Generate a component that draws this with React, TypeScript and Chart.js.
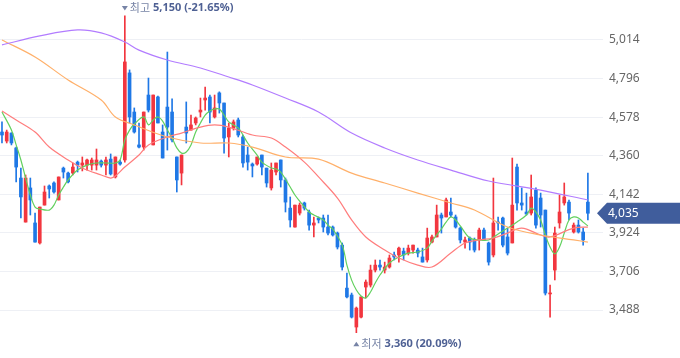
import React, { useEffect, useRef } from 'react';
import { Chart, registerables } from 'chart.js';

Chart.register(...registerables);

// Daily candles (oldest -> newest)
const opens = [
  4494, 4443, 4488, 4404, 4234, 3985, 4178, 3980, 3867, 4081,
  4189, 4206, 4110, 4290, 4262, 4262, 4324, 4307, 4307, 4307,
  4307, 4330, 4307, 4341, 4240, 4324, 4336, 4828, 4607, 4421,
  4409, 4703, 4421, 4692, 4494, 4635, 4607, 4353, 4262, 4522,
  4505, 4545, 4607, 4675, 4692, 4579, 4715, 4658, 4466, 4517,
  4562, 4466, 4364, 4313, 4313, 4364, 4290, 4178, 4268, 4336,
  4223, 4064, 3957, 4036, 4093, 4042, 3968, 4008, 4008, 3957,
  3957, 3923, 3855, 3612, 3573, 3392, 3448, 3618, 3629, 3714,
  3742, 3714, 3731, 3799, 3799, 3821, 3810, 3827, 3827, 3788,
  3771, 3872, 3901, 4025, 4014, 4042, 4014, 3951, 3872, 3895,
  3884, 3884, 3940, 3867, 3799, 3985, 4008, 3901, 3867, 4296,
  4093, 4042, 4036, 4166, 4121, 4053, 3579, 3714, 3980, 4093,
  4098, 3929, 3968, 3929, 4098,
];
const highs = [
  4551, 4505, 4490, 4409, 4290, 4251, 4234, 4036, 4070, 4189,
  4195, 4212, 4240, 4296, 4268, 4319, 4330, 4353, 4341, 4347,
  4398, 4336, 4353, 4370, 4353, 4336, 5150, 4845, 4630, 4545,
  4607, 4799, 4703, 4697, 4534, 4946, 4681, 4353, 4364, 4664,
  4590, 4579, 4686, 4748, 4703, 4703, 4721, 4658, 4545, 4562,
  4573, 4477, 4409, 4319, 4353, 4364, 4290, 4319, 4319, 4336,
  4234, 4127, 4081, 4093, 4098, 4053, 4014, 4014, 4025, 4025,
  3963, 3929, 3867, 3697, 3584, 3505, 3562, 3658, 3742, 3771,
  3771, 3759, 3799, 3816, 3844, 3838, 3855, 3855, 3838, 3838,
  3951, 3912, 4081, 4036, 4121, 4121, 4025, 3957, 3901, 3901,
  3895, 3951, 3951, 3872, 4234, 4014, 4014, 3951, 4347, 4313,
  4178, 4149, 4251, 4178, 4149, 4053, 3629, 3957, 4138, 4206,
  4110, 3980, 3997, 3951, 4262,
];
const lows = [
  4432, 4432, 4421, 4212, 4008, 3985, 4025, 3872, 3861, 4081,
  4121, 4149, 4110, 4234, 4206, 4251, 4268, 4274, 4279, 4279,
  4279, 4296, 4251, 4251, 4234, 4307, 4324, 4545, 4488, 4404,
  4392, 4607, 4421, 4545, 4347, 4392, 4438, 4155, 4195, 4432,
  4505, 4534, 4579, 4618, 4545, 4573, 4601, 4375, 4353, 4505,
  4466, 4296, 4279, 4240, 4307, 4251, 4183, 4166, 4251, 4183,
  4042, 3957, 3957, 4025, 4053, 3940, 3901, 3980, 3929, 3912,
  3906, 3833, 3714, 3556, 3443, 3360, 3443, 3556, 3618, 3703,
  3714, 3697, 3725, 3771, 3759, 3771, 3799, 3810, 3788, 3759,
  3759, 3867, 3901, 3923, 4014, 4014, 3951, 3867, 3838, 3827,
  3816, 3827, 3884, 3742, 3788, 3940, 3844, 3799, 3867, 4053,
  4053, 4025, 4025, 3951, 3957, 3573, 3448, 3658, 3951, 4081,
  3997, 3923, 3923, 3855, 3997,
];
const closes = [
  4477, 4494, 4432, 4296, 4127, 4234, 4110, 3872, 4070, 4155,
  4172, 4155, 4240, 4268, 4212, 4296, 4307, 4319, 4336, 4336,
  4336, 4307, 4336, 4257, 4353, 4313, 4890, 4579, 4494, 4409,
  4607, 4618, 4703, 4545, 4347, 4522, 4449, 4223, 4364, 4488,
  4534, 4573, 4618, 4686, 4607, 4630, 4658, 4460, 4517, 4551,
  4477, 4319, 4324, 4302, 4353, 4296, 4206, 4279, 4319, 4223,
  4098, 3997, 4081, 4081, 4064, 3968, 3980, 3997, 3957, 3923,
  3912, 3844, 3731, 3562, 3448, 3499, 3562, 3646, 3714, 3742,
  3731, 3731, 3782, 3788, 3838, 3799, 3838, 3855, 3810, 3759,
  3895, 3901, 4025, 4008, 4110, 4025, 3957, 3884, 3884, 3872,
  3827, 3940, 3884, 3759, 3980, 3980, 3855, 3810, 4081, 4093,
  4081, 4031, 4127, 3968, 4025, 3584, 3584, 3923, 4042, 4127,
  4036, 3968, 3929, 3884, 4035,
];

// Moving-average lines (candle index -> value)
const ma5Idx = [0, 2, 3, 4, 5, 6, 7, 8, 10, 11, 12, 13, 14, 16, 18, 20, 22, 24, 25, 26, 27, 28, 30, 31, 32, 33, 34, 35, 36, 37, 38, 39, 40, 41, 42, 43, 44, 45, 46, 47, 48, 50, 51, 52, 54, 55, 57, 58, 59, 61, 62, 63, 65, 66, 68, 69, 70, 72, 73, 74, 75, 76, 77, 78, 79, 80, 82, 84, 86, 88, 90, 91, 92, 93, 94, 95, 96, 97, 99, 101, 103, 105, 107, 109, 111, 112, 113, 114, 115, 116, 117, 118, 119, 120, 121, 122, 123, 124];
const ma5Val = [4607, 4505, 4421, 4336, 4234, 4138, 4070, 4059, 4053, 4081, 4138, 4183, 4223, 4279, 4307, 4319, 4319, 4319, 4336, 4449, 4505, 4539, 4579, 4534, 4562, 4579, 4556, 4505, 4460, 4404, 4375, 4381, 4421, 4494, 4545, 4590, 4613, 4624, 4624, 4590, 4551, 4517, 4477, 4432, 4364, 4324, 4291, 4285, 4268, 4183, 4138, 4104, 4042, 4025, 3997, 3968, 3946, 3855, 3742, 3657, 3601, 3567, 3556, 3590, 3641, 3686, 3754, 3788, 3810, 3816, 3838, 3878, 3912, 3946, 3985, 4014, 3997, 3963, 3895, 3884, 3884, 3918, 3951, 3985, 4025, 4064, 4042, 3997, 3912, 3844, 3805, 3844, 3923, 3997, 4014, 4008, 3985, 3963];

const ma20Idx = [0, 3, 7, 10, 14, 17, 21, 23, 24, 26, 29, 31, 35, 38, 42, 45, 48, 53, 57, 60, 64, 67, 71, 74, 77, 81, 84, 88, 91, 95, 98, 101, 104, 107, 110, 114, 116, 121, 124];
const ma20Val = [4613, 4562, 4494, 4409, 4336, 4291, 4251, 4234, 4245, 4296, 4364, 4421, 4466, 4488, 4522, 4534, 4522, 4477, 4460, 4409, 4324, 4240, 4121, 3997, 3901, 3827, 3782, 3742, 3731, 3810, 3867, 3884, 3895, 3923, 3951, 3912, 3901, 3951, 3957];

const ma60Idx = [0, 7, 14, 21, 24, 28, 35, 42, 48, 53, 60, 67, 74, 81, 88, 95, 100, 107, 114, 121, 124];
const ma60Val = [5014, 4918, 4788, 4675, 4579, 4534, 4466, 4432, 4432, 4409, 4353, 4341, 4262, 4206, 4149, 4093, 4053, 3957, 3912, 3884, 3872];

const ma120Idx = [0, 8, 16, 21, 26, 29, 35, 42, 48, 53, 60, 67, 74, 81, 88, 95, 103, 114, 124];
const ma120Val = [4986, 5037, 5071, 5054, 5003, 4957, 4901, 4856, 4805, 4760, 4686, 4607, 4488, 4404, 4336, 4279, 4217, 4166, 4110];

const yTicks = [3488, 3706, 3924, 4142, 4360, 4578, 4796, 5014];

const RED = '#f2363f';
const BLUE = '#1f78e6';

const fmt = (v: number) => v.toLocaleString('en-US');

const overlayPlugin = {
  id: 'overlay',
  afterDatasetsDraw(chart: any) {
    const ctx = chart.ctx as CanvasRenderingContext2D;
    const xs = chart.scales.x;
    const ys = chart.scales.y;
    const last = closes[closes.length - 1];
    let hi = -Infinity, hiI = 0, lo = Infinity, loI = 0;
    highs.forEach((v, i) => { if (v > hi) { hi = v; hiI = i; } });
    lows.forEach((v, i) => { if (v < lo) { lo = v; loI = i; } });

    const drawNote = (cx: number, cy: number, down: boolean, word: string, val: string) => {
      ctx.save();
      ctx.fillStyle = '#7784a6';
      ctx.beginPath();
      if (down) {
        ctx.moveTo(cx - 3, cy - 2); ctx.lineTo(cx + 3, cy - 2); ctx.lineTo(cx, cy + 2.5);
      } else {
        ctx.moveTo(cx - 3, cy + 2.5); ctx.lineTo(cx + 3, cy + 2.5); ctx.lineTo(cx, cy - 2);
      }
      ctx.closePath();
      ctx.fill();
      ctx.textBaseline = 'middle';
      ctx.textAlign = 'left';
      ctx.font = '11px "Noto Sans CJK KR", "Noto Sans", sans-serif';
      ctx.fillStyle = '#7784a6';
      ctx.fillText(word, cx + 5, cy);
      const w = ctx.measureText(word).width;
      ctx.font = 'bold 11px "Noto Sans", "Noto Sans CJK KR", sans-serif';
      ctx.fillStyle = '#4f6194';
      ctx.fillText(val, cx + 5 + w + 3, cy);
      ctx.restore();
    };

    const pctHi = ((last - hi) / hi * 100).toFixed(2);
    const pctLo = ((last - lo) / lo * 100).toFixed(2);
    drawNote(xs.getPixelForValue(hiI), ys.getPixelForValue(hi) - 8, true, '최고', `${fmt(hi)} (${pctHi}%)`);
    drawNote(xs.getPixelForValue(loI), ys.getPixelForValue(lo) + 11, false, '최저', `${fmt(lo)} (${pctLo}%)`);

    // current price tag
    const py = ys.getPixelForValue(last);
    const left = chart.chartArea.right - 6;
    const h = 10.5;
    ctx.save();
    ctx.fillStyle = '#405d9c';
    ctx.beginPath();
    ctx.moveTo(left, py);
    ctx.lineTo(left + 10, py - h);
    ctx.lineTo(chart.width, py - h);
    ctx.lineTo(chart.width, py + h);
    ctx.lineTo(left + 10, py + h);
    ctx.closePath();
    ctx.fill();
    ctx.fillStyle = '#ffffff';
    ctx.font = '12px "Noto Sans", sans-serif';
    ctx.textBaseline = 'middle';
    ctx.textAlign = 'left';
    ctx.fillText(fmt(last), chart.chartArea.right + 5, py + 0.5);
    ctx.restore();
  },
};

export default function App() {
  const ref = useRef<HTMLCanvasElement>(null);
  useEffect(() => {
    if (!ref.current) return;
    const idx = closes.map((_, i) => i);
    const up = idx.map((i) => closes[i] >= opens[i]);
    const color = (c: any) => (up[c.dataIndex] ? RED : BLUE);
    const line = (xsArr: number[], vals: number[], col: string) => ({
      type: 'line' as const,
      data: xsArr.map((x, k) => ({ x, y: vals[k] })),
      borderColor: col,
      borderWidth: 1.2,
      pointRadius: 0,
      tension: 0.35,
      fill: false,
      order: 0,
    });
    const chart = new Chart(ref.current, {
      type: 'bar',
      data: {
        datasets: [
          line(ma120Idx, ma120Val, '#b27cff'),
          line(ma60Idx, ma60Val, '#ffb06a'),
          line(ma20Idx, ma20Val, '#ff7d7d'),
          line(ma5Idx, ma5Val, '#62d05e'),
          {
            type: 'bar',
            data: idx.map((i) => ({ x: i, y: [opens[i], closes[i]] })),
            backgroundColor: color,
            barThickness: 3,
            minBarLength: 1,
            grouped: false,
            borderWidth: 0,
            order: 1,
          } as any,
          {
            type: 'bar',
            data: idx.map((i) => ({ x: i, y: [lows[i], highs[i]] })),
            backgroundColor: color,
            barThickness: 1,
            grouped: false,
            borderWidth: 0,
            order: 2,
          } as any,
        ],
      },
      options: {
        animation: false,
        responsive: false,
        events: [],
        layout: { padding: 0 },
        plugins: { legend: { display: false }, tooltip: { enabled: false } },
        scales: {
          x: { type: 'linear', display: false, min: -0.42, max: 127.2, offset: false },
          y: {
            position: 'right',
            min: 3217,
            max: 5240,
            grid: { color: '#eef0f5', drawTicks: false },
            border: { display: false },
            ticks: {
              padding: 6,
              color: '#666666',
              font: { size: 12, family: '"Noto Sans", sans-serif' },
              callback: (v: any) => fmt(Number(v)),
            },
            afterBuildTicks: (s: any) => {
              s.ticks = yTicks.map((v) => ({ value: v }));
            },
            afterFit: (s: any) => {
              s.width = 77;
              s.paddingTop = 0;
              s.paddingBottom = 0;
            },
          },
        },
      } as any,
      plugins: [overlayPlugin],
    });
    return () => chart.destroy();
  }, []);
  return (
    <div style={{ position: 'absolute', left: 0, top: 0, width: 680, height: 358, background: '#fff' }}>
      <canvas ref={ref} width={680} height={358} style={{ display: 'block' }} />
    </div>
  );
}
